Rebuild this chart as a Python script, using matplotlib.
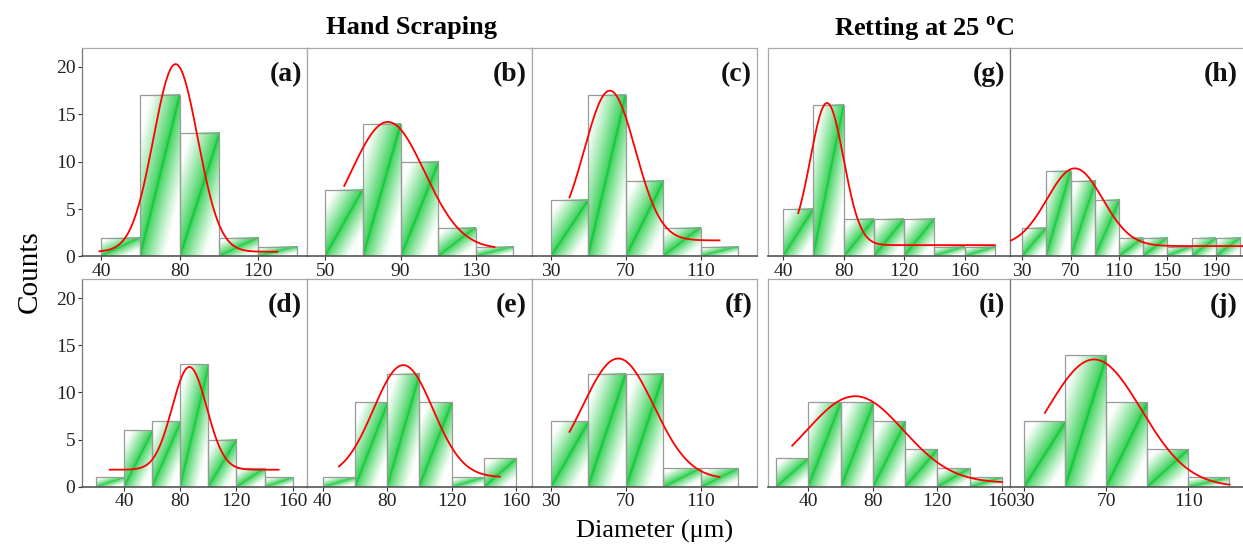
import numpy as np
import matplotlib
matplotlib.use("Agg")
import matplotlib.pyplot as plt

plt.rcParams['font.family'] = ['Liberation Serif', 'DejaVu Serif']
plt.rcParams['mathtext.fontset'] = 'custom'
plt.rcParams['mathtext.rm'] = 'Liberation Serif'
plt.rcParams['mathtext.bf'] = 'Liberation Serif:bold'

# ---------------- data ----------------
bin_start = {'a': 40, 'b': 50, 'c': 30, 'g': 40, 'h': 30,
             'd': 20, 'e': 40, 'f': 30, 'i': 20, 'j': 30}
bin_width = 20

counts_a = [2, 17, 13, 2, 1]
counts_b = [7, 14, 10, 3, 1]
counts_c = [6, 17, 8, 3, 1]
counts_g = [5, 16, 4, 4, 4, 1, 1]
counts_h = [3, 9, 8, 6, 2, 2, 1, 2, 2]
counts_d = [1, 6, 7, 13, 5, 2, 1]
counts_e = [1, 9, 12, 9, 1, 3]
counts_f = [7, 12, 12, 2, 2]
counts_i = [3, 9, 9, 7, 4, 2, 1]
counts_j = [7, 14, 9, 4, 1]

# Gaussian fit parameters: (offset y0, amplitude A, centre xc, sigma, x from, x to)
fit_a = (0.5, 19.8, 78.0, 11.3, 39, 130)
fit_b = (0.8, 13.4, 83.2, 19.6, 60, 140)
fit_c = (1.7, 15.8, 61.5, 13.6, 40, 120)
fit_g = (1.2, 15.0, 69.0, 11.0, 50, 180)
fit_h = (1.1, 8.2, 73.6, 23.0, 20, 220)
fit_d = (1.8, 10.9, 86.6, 12.3, 30, 150)
fit_e = (1.0, 11.9, 90.0, 18.5, 50, 150)
fit_f = (0.8, 12.8, 66.0, 19.0, 40, 120)
fit_i = (0.4, 9.2, 69.0, 30.0, 30, 160)
fit_j = (0.0, 13.5, 64.0, 23.0, 40, 130)

xticks_a = [40, 80, 120]
xticks_b = [50, 90, 130]
xticks_c = [30, 70, 110]
xticks_g = [40, 80, 120, 160]
xticks_h = [30, 70, 110, 150, 190]
xticks_d = [40, 80, 120, 160]
xticks_e = [40, 80, 120, 160]
xticks_f = [30, 70, 110]
xticks_i = [40, 80, 120, 160]
xticks_j = [30, 70, 110]

xlim_a = (30, 145)
xlim_b = (40, 160)
xlim_c = (20, 140)
xlim_g = (30, 190)
xlim_h = (20, 220)
xlim_d = (10, 170)
xlim_e = (30, 170)
xlim_f = (20, 140)
xlim_i = (15, 165)
xlim_j = (23, 141)

yticks = [0, 5, 10, 15, 20]
ylim = (0, 22)

# ---------------- layout ----------------
W, H = 1243, 554
fig = plt.figure(figsize=(W / 100, H / 100), dpi=100)


def pos(x0, x1, y0, y1):
    return [x0 / W, 1 - y1 / H, (x1 - x0) / W, (y1 - y0) / H]


cols = [(81.7, 306.7), (306.7, 532), (532, 757), (768, 1010), (1010, 1252)]
rows = [(48, 256.5), (279.3, 486.7)]

panels = [
    ('a', counts_a, fit_a, xticks_a, xlim_a, 0, 0),
    ('b', counts_b, fit_b, xticks_b, xlim_b, 0, 1),
    ('c', counts_c, fit_c, xticks_c, xlim_c, 0, 2),
    ('g', counts_g, fit_g, xticks_g, xlim_g, 0, 3),
    ('h', counts_h, fit_h, xticks_h, xlim_h, 0, 4),
    ('d', counts_d, fit_d, xticks_d, xlim_d, 1, 0),
    ('e', counts_e, fit_e, xticks_e, xlim_e, 1, 1),
    ('f', counts_f, fit_f, xticks_f, xlim_f, 1, 2),
    ('i', counts_i, fit_i, xticks_i, xlim_i, 1, 3),
    ('j', counts_j, fit_j, xticks_j, xlim_j, 1, 4),
]

# gradient texture for bars (green along the bar diagonal, fading to white)
N = 160
uu, vv = np.meshgrid(np.linspace(0, 1, N), np.linspace(0, 1, N))
sd = vv - uu
strength = np.where(sd >= 0,
                    np.clip(1 - sd / 0.75, 0, 1) ** 1.1,
                    np.clip(1 + sd / 0.65, 0, 1) ** 1.2)
strength = 0.8 * strength + 0.2 * np.exp(-(sd / 0.03) ** 2)
green = np.array([0.05, 0.78, 0.20])
texture = 1 - np.clip(strength, 0, 1)[..., None] * (1 - green)

for key, counts, fit, xt, xl, r, c in panels:
    x0, x1 = cols[c]
    y0, y1 = rows[r]
    ax = fig.add_axes(pos(x0, x1, y0, y1))
    ax.set_facecolor('white')
    edges = bin_start[key] + bin_width * np.arange(len(counts) + 1)
    for k, cnt in enumerate(counts):
        ax.imshow(texture, origin='lower', extent=(edges[k], edges[k + 1], 0, cnt),
                  aspect='auto', interpolation='bilinear', zorder=1)
    ax.bar(edges[:-1], counts, width=bin_width, align='edge', fill=False,
           edgecolor='#9a9a9a', linewidth=0.9, zorder=2)
    yoff, amp, xc, sig, xa, xb = fit
    xs = np.linspace(xa, xb, 300)
    ax.plot(xs, yoff + amp * np.exp(-(xs - xc) ** 2 / (2 * sig ** 2)),
            color='#ff0000', lw=1.3, zorder=3)
    ax.set_xlim(*xl)
    ax.set_ylim(*ylim)
    ax.set_xticks(xt)
    ax.set_xticklabels([str(t) for t in xt])
    ax.tick_params(axis='x', direction='out', length=3, width=0.8, pad=1.5,
                   labelsize=14, colors='#333333', labelcolor='#222222')
    ax.set_yticks(yticks)
    if c == 0:
        ax.tick_params(axis='y', direction='out', length=3, width=0.8, pad=1.5,
                       labelsize=14, colors='#333333', labelcolor='#222222')
    else:
        ax.tick_params(axis='y', left=False, labelleft=False)
    for side in ['top', 'right', 'left']:
        ax.spines[side].set_color('#a8a8a8')
        ax.spines[side].set_linewidth(0.9)
    ax.spines['bottom'].set_color('#555555')
    ax.spines['bottom'].set_linewidth(1.2)
    if c in (0, 4):
        ax.spines['left'].set_color('#777777')
    xoff = -10 if c == 4 else -3.5
    ax.annotate('(' + key + ')', xy=(1, 1), xycoords='axes fraction',
                xytext=(xoff, -10), textcoords='offset points',
                ha='right', va='top', fontsize=20, fontweight='bold', color='#111111',
                annotation_clip=False)

fig.text(411 / W, 1 - 34 / H, 'Hand Scraping', ha='center', va='baseline',
         fontsize=19, fontweight='bold')
fig.text(924 / W, 1 - 36 / H, r'Retting at 25 $^{\mathbf{o}}$C', ha='center',
         va='baseline', fontsize=19, fontweight='bold')
fig.text(655 / W, 1 - 538 / H, 'Diameter (μm)', ha='center', va='baseline',
         fontsize=19)
fig.text(30 / W, 1 - 272 / H, 'Counts', ha='center', va='center',
         rotation=90, fontsize=21)

fig.savefig('out.png', dpi=100)
